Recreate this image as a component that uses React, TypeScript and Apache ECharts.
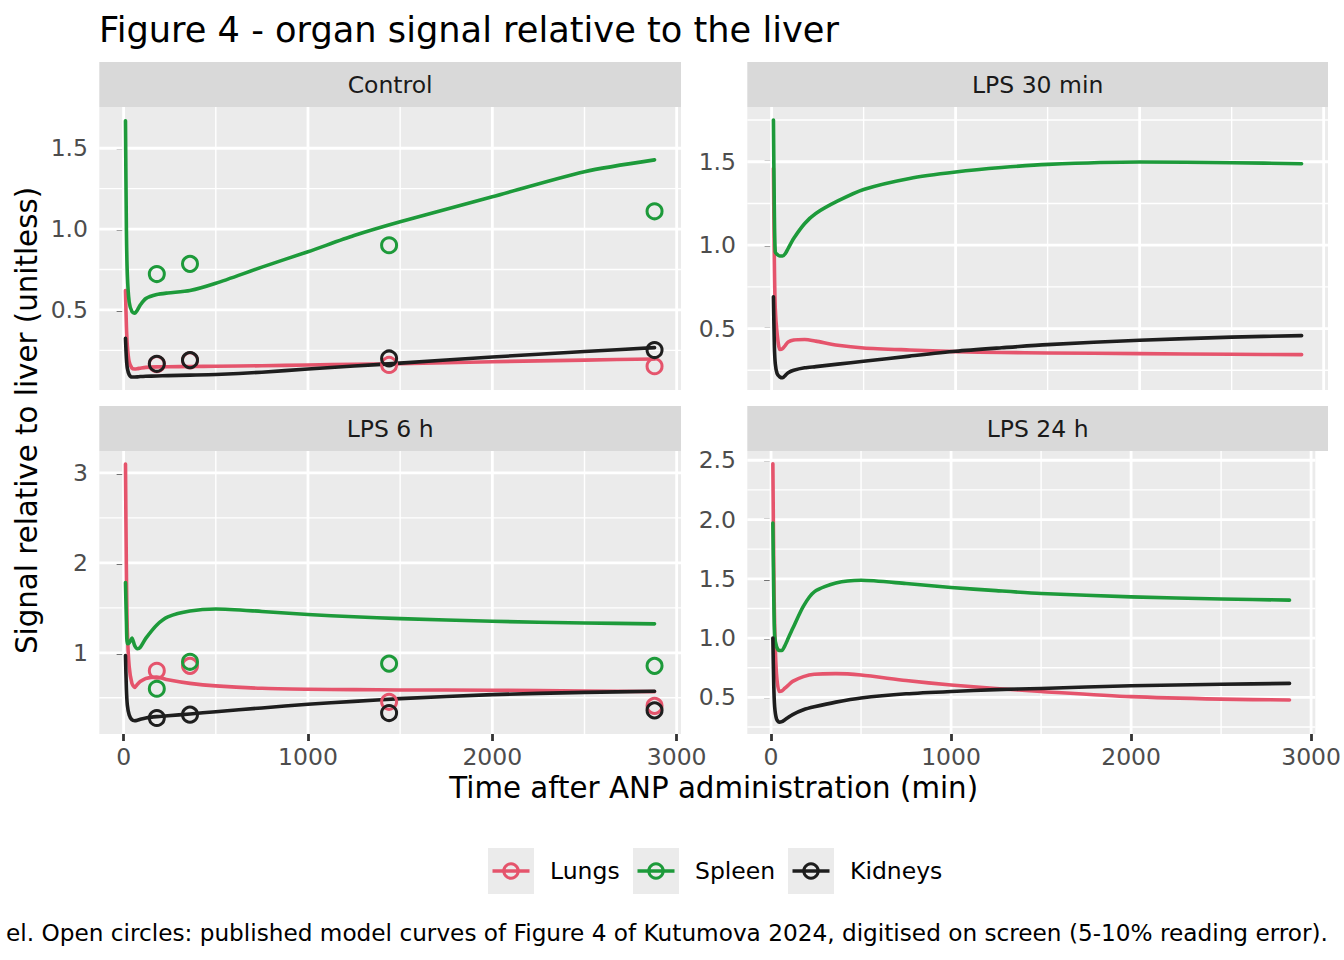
import React, { useEffect, useRef } from "react";
import * as echarts from "echarts";

// ---------------- data ----------------
const panelNames = ["Control", "LPS 30 min", "LPS 6 h", "LPS 24 h"];
const organs = ["Lungs", "Spleen", "Kidneys"];
const organColors = ["#E5546C", "#1D9A3A", "#1E1E1E"];

const curveTimes = [10, 15, 20, 30, 45, 60, 75, 90, 120, 180, 240, 360, 500, 750, 1000, 1250, 1500, 2000, 2500, 2880];

const controlLungs = [0.62, 0.4, 0.28, 0.18, 0.14, 0.135, 0.137, 0.14, 0.145, 0.148, 0.149, 0.15, 0.152, 0.155, 0.16, 0.164, 0.168, 0.18, 0.19, 0.197];
const controlSpleen = [1.67, 1.0, 0.72, 0.55, 0.49, 0.48, 0.5, 0.53, 0.57, 0.595, 0.605, 0.62, 0.665, 0.765, 0.86, 0.96, 1.045, 1.2, 1.355, 1.428];
const controlKidneys = [0.325, 0.2, 0.14, 0.1, 0.085, 0.085, 0.086, 0.088, 0.09, 0.092, 0.094, 0.097, 0.101, 0.115, 0.135, 0.153, 0.171, 0.209, 0.243, 0.267];

const lps30Lungs = [1.46, 0.9, 0.62, 0.47, 0.375, 0.38, 0.4, 0.42, 0.432, 0.435, 0.425, 0.4, 0.384, 0.372, 0.362, 0.357, 0.354, 0.35, 0.346, 0.344];
const lps30Spleen = [1.75, 1.2, 0.96, 0.945, 0.935, 0.935, 0.95, 0.98, 1.04, 1.13, 1.19, 1.265, 1.334, 1.4, 1.438, 1.465, 1.484, 1.498, 1.494, 1.488];
const lps30Kidneys = [0.69, 0.4, 0.29, 0.23, 0.21, 0.205, 0.22, 0.235, 0.25, 0.265, 0.272, 0.287, 0.304, 0.335, 0.364, 0.385, 0.404, 0.43, 0.449, 0.458];

const lps6Lungs = [3.1, 1.9, 1.25, 0.85, 0.66, 0.615, 0.65, 0.68, 0.715, 0.73, 0.7, 0.66, 0.632, 0.605, 0.595, 0.59, 0.587, 0.584, 0.576, 0.568];
const lps6Spleen = [1.78, 1.35, 1.1, 1.11, 1.165, 1.08, 1.045, 1.06, 1.16, 1.31, 1.4, 1.465, 1.487, 1.46, 1.425, 1.4, 1.38, 1.35, 1.332, 1.322];
const lps6Kidneys = [0.97, 0.6, 0.42, 0.31, 0.255, 0.245, 0.25, 0.26, 0.275, 0.29, 0.3, 0.32, 0.345, 0.387, 0.428, 0.46, 0.49, 0.535, 0.56, 0.572];

const lps24Lungs = [2.47, 1.6, 1.1, 0.7, 0.55, 0.555, 0.575, 0.595, 0.635, 0.675, 0.695, 0.7, 0.688, 0.642, 0.604, 0.575, 0.55, 0.506, 0.485, 0.478];
const lps24Spleen = [1.97, 1.35, 1.02, 0.93, 0.895, 0.895, 0.93, 0.98, 1.08, 1.27, 1.39, 1.465, 1.488, 1.46, 1.427, 1.4, 1.376, 1.348, 1.33, 1.32];
const lps24Kidneys = [1.0, 0.6, 0.42, 0.32, 0.29, 0.295, 0.31, 0.325, 0.355, 0.395, 0.42, 0.46, 0.495, 0.53, 0.55, 0.565, 0.575, 0.598, 0.61, 0.618];

const pointTimes = [180, 360, 1440, 2880];
const controlLungsPts = [0.165, 0.188, 0.16, 0.152];
const controlSpleenPts = [0.722, 0.785, 0.9, 1.11];
const controlKidneysPts = [0.167, 0.19, 0.2, 0.252];
const lps6LungsPts = [0.8, 0.855, 0.455, 0.41];
const lps6SpleenPts = [0.6, 0.9, 0.88, 0.855];
const lps6KidneysPts = [0.275, 0.312, 0.33, 0.36];

const xMajorTicks = [0, 1000, 2000, 3000];
const xMinorTicks = [500, 1500, 2500];
const yMajorTicks = [[0.5, 1, 1.5], [0.5, 1, 1.5], [1, 2, 3], [0.5, 1, 1.5, 2, 2.5]];
const yMinorTicks = [[0.25, 0.75, 1.25], [0.25, 0.75, 1.25, 1.75], [0.5, 1.5, 2.5], [0.25, 0.75, 1.25, 1.75, 2.25]];
const xLimits = [-132, 3023.5];
const yLimits = [[0.005, 1.755], [0.132, 1.828], [0.097, 3.244], [0.191, 2.578]];

const curves = [
  [controlLungs, controlSpleen, controlKidneys],
  [lps30Lungs, lps30Spleen, lps30Kidneys],
  [lps6Lungs, lps6Spleen, lps6Kidneys],
  [lps24Lungs, lps24Spleen, lps24Kidneys],
];
const points: (number[][] | null)[] = [
  [controlLungsPts, controlSpleenPts, controlKidneysPts],
  null,
  [lps6LungsPts, lps6SpleenPts, lps6KidneysPts],
  null,
];

// ---------------- layout ----------------
const FONT = "'DejaVu Sans', sans-serif";
const panelBoxes = [
  { left: 99.3, top: 107, width: 581.7, height: 283 },
  { left: 747.3, top: 107, width: 580.7, height: 283 },
  { left: 99.3, top: 451, width: 581.7, height: 283 },
  { left: 747.3, top: 451, width: 580.7, height: 283 },
];
const STRIP_H = 45;
const legendKeyX = [488, 633, 788];

function gridLineData(xs: number[], ys: number[], yr: number[]) {
  const d: any[] = [];
  xs.forEach((x) => {
    d.push([x, yr[0]], [x, yr[1]], [x, "-"]);
  });
  ys.forEach((y) => {
    d.push([xLimits[0], y], [xLimits[1], y], ["-", y]);
  });
  return d;
}

function buildOption() {
  const grid = panelBoxes.map((b) => ({
    ...b,
    show: true,
    backgroundColor: "#EBEBEB",
    borderWidth: 0,
    containLabel: false,
  }));

  const tickStyle = { color: "#333333", width: 2.8 };
  const labelBase = { color: "#4D4D4D", fontSize: 23.5, fontFamily: FONT };

  const xAxis = panelBoxes.map((_, i) => ({
    type: "value",
    gridIndex: i,
    min: xLimits[0],
    max: xLimits[1],
    axisLine: { show: false },
    splitLine: { show: false },
    axisTick: { show: i >= 2, customValues: xMajorTicks, length: 7, lineStyle: tickStyle },
    axisLabel: {
      show: i >= 2,
      customValues: xMajorTicks,
      margin: 11,
      formatter: (v: number) => String(Math.round(v)),
      ...labelBase,
    },
  }));

  const yAxis = panelBoxes.map((_, i) => ({
    type: "value",
    gridIndex: i,
    min: yLimits[i][0],
    max: yLimits[i][1],
    axisLine: { show: false },
    splitLine: { show: false },
    axisTick: { show: true, customValues: yMajorTicks[i], length: 7, lineStyle: tickStyle },
    axisLabel: {
      customValues: yMajorTicks[i],
      margin: 11.3,
      formatter: (v: number) => (i === 2 ? String(Math.round(v)) : v.toFixed(1)),
      ...labelBase,
    },
  }));

  const series: any[] = [];
  panelBoxes.forEach((_, i) => {
    series.push({
      type: "line",
      xAxisIndex: i,
      yAxisIndex: i,
      data: gridLineData(xMinorTicks, yMinorTicks[i], yLimits[i]),
      showSymbol: false,
      symbol: "none",
      connectNulls: false,
      lineStyle: { color: "#FFFFFF", width: 1.4 },
      silent: true,
      z: 1,
    });
    series.push({
      type: "line",
      xAxisIndex: i,
      yAxisIndex: i,
      data: gridLineData(xMajorTicks, yMajorTicks[i], yLimits[i]),
      showSymbol: false,
      symbol: "none",
      connectNulls: false,
      lineStyle: { color: "#FFFFFF", width: 2.8 },
      silent: true,
      z: 1,
    });
    curves[i].forEach((vals, k) => {
      series.push({
        type: "line",
        name: organs[k],
        xAxisIndex: i,
        yAxisIndex: i,
        data: curveTimes.map((t, j) => [t, vals[j]]),
        showSymbol: false,
        symbol: "none",
        smooth: 0.25,
        lineStyle: { color: organColors[k], width: 3.6, join: "round", cap: "round" },
        silent: true,
        z: 3,
      });
    });
    const pts = points[i];
    if (pts) {
      pts.forEach((vals, k) => {
        series.push({
          type: "scatter",
          name: organs[k],
          xAxisIndex: i,
          yAxisIndex: i,
          data: pointTimes.map((t, j) => [t, vals[j]]),
          symbol: "circle",
          symbolSize: 15,
          itemStyle: { color: "rgba(0,0,0,0)", borderColor: organColors[k], borderWidth: 3, opacity: 1 },
          silent: true,
          z: 4 + k,
        });
      });
    }
  });

  const graphic: any[] = [];
  panelBoxes.forEach((b, i) => {
    graphic.push({
      type: "rect",
      shape: { x: b.left, y: b.top - STRIP_H, width: b.width, height: STRIP_H },
      style: { fill: "#D9D9D9" },
      silent: true,
    });
    graphic.push({
      type: "text",
      x: b.left + b.width / 2,
      y: b.top - STRIP_H / 2,
      style: {
        text: panelNames[i],
        fill: "#1A1A1A",
        font: `23.5px ${FONT}`,
        textAlign: "center",
        textVerticalAlign: "middle",
      },
      silent: true,
    });
  });

  graphic.push({
    type: "text",
    x: 99,
    y: 29.5,
    style: {
      text: "Figure 4 - organ signal relative to the liver",
      fill: "#000000",
      font: `35.2px ${FONT}`,
      textAlign: "left",
      textVerticalAlign: "middle",
    },
    silent: true,
  });
  graphic.push({
    type: "text",
    x: 713.7,
    y: 788,
    style: {
      text: "Time after ANP administration (min)",
      fill: "#000000",
      font: `29.3px ${FONT}`,
      textAlign: "center",
      textVerticalAlign: "middle",
    },
    silent: true,
  });
  graphic.push({
    type: "text",
    x: 27,
    y: 420.5,
    rotation: Math.PI / 2,
    style: {
      text: "Signal relative to liver (unitless)",
      fill: "#000000",
      font: `29.3px ${FONT}`,
      textAlign: "center",
      textVerticalAlign: "middle",
    },
    silent: true,
  });

  organs.forEach((name, k) => {
    const kx = legendKeyX[k];
    const ky = 848;
    graphic.push({
      type: "rect",
      shape: { x: kx, y: ky, width: 46, height: 46 },
      style: { fill: "#EBEBEB" },
      silent: true,
    });
    graphic.push({
      type: "line",
      shape: { x1: kx + 4.5, y1: ky + 23, x2: kx + 41.5, y2: ky + 23 },
      style: { stroke: organColors[k], lineWidth: 3.4 },
      silent: true,
    });
    graphic.push({
      type: "circle",
      shape: { cx: kx + 23, cy: ky + 23, r: 7.2 },
      style: { fill: "none", stroke: organColors[k], lineWidth: 3 },
      silent: true,
    });
    graphic.push({
      type: "text",
      x: kx + 62,
      y: ky + 23,
      style: {
        text: name,
        fill: "#000000",
        font: `23.5px ${FONT}`,
        textAlign: "left",
        textVerticalAlign: "middle",
      },
      silent: true,
    });
  });

  graphic.push({
    type: "text",
    x: 1328,
    y: 932,
    style: {
      text: "el. Open circles: published model curves of Figure 4 of Kutumova 2024, digitised on screen (5-10% reading error).",
      fill: "#000000",
      font: `23.2px ${FONT}`,
      textAlign: "right",
      textVerticalAlign: "middle",
    },
    silent: true,
  });

  return {
    animation: false,
    backgroundColor: "#FFFFFF",
    grid,
    xAxis,
    yAxis,
    series,
    graphic,
  };
}

export default function App() {
  const ref = useRef<HTMLDivElement>(null);
  useEffect(() => {
    if (!ref.current) return;
    const chart = echarts.init(ref.current, undefined, { renderer: "svg", width: 1344, height: 960 });
    chart.setOption(buildOption() as any);
    return () => chart.dispose();
  }, []);
  return (
    <div
      ref={ref}
      style={{ position: "absolute", left: 0, top: 0, width: 1344, height: 960, background: "#fff" }}
    />
  );
}
